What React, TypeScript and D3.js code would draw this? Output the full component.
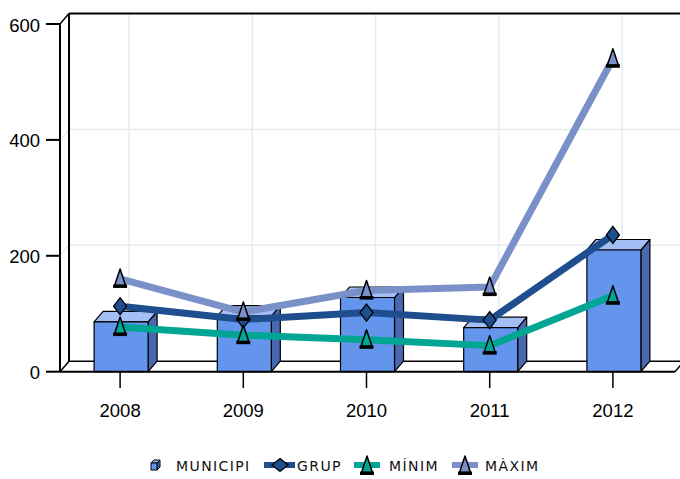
import React from 'react';
import * as d3 from 'd3';

const years = ['2008', '2009', '2010', '2011', '2012'];
const municipi = [86, 96, 128, 76, 210];
const grup = [113, 90, 102, 89, 236];
const minim = [77, 63, 55, 45, 131];
const maxim = [160, 103, 140, 146, 540];
const yTicks = [0, 200, 400, 600];

const W = 680;
const H = 479;
const DX = 9;
const DY = -10.5;

const C_FRONT = '#6495ED';
const C_TOP = '#A3BFF5';
const C_SIDE = '#4A68B0';
const C_GRUP = '#1F4E8F';
const C_MIN = '#00A693';
const C_MAX = '#7A90C8';
const GRID = '#E6EBF1';

const x = d3.scaleBand<string>().domain(years).range([58.5, 674.5]);
const y = d3.scaleLinear().domain([0, 600]).range([371.7, 24]);
const cx = (d: string) => (x(d) as number) + x.bandwidth() / 2;

const Triangle = ({ px, py, fill }: { px: number; py: number; fill: string }) => (
  <g transform={`translate(${px},${py})`}>
    <path d="M0,-10 L5.5,6.5 L-5.5,6.5 Z" fill={fill} stroke="#000" strokeWidth={1.5} strokeLinejoin="round" />
    <rect x={-7} y={5.5} width={14} height={3.5} fill="#000" />
  </g>
);

const Diamond = ({ px, py, fill, w = 6.5, h = 8.5 }: { px: number; py: number; fill: string; w?: number; h?: number }) => (
  <path
    d={`M${px},${py - h} L${px + w},${py} L${px},${py + h} L${px - w},${py} Z`}
    fill={fill}
    stroke="#000"
    strokeWidth={1.3}
  />
);

export default function App() {
  const y0 = y(0);
  const xL = 60;
  const xR = 675;
  const barW = 54;
  const line = d3
    .line<number>()
    .x((_, i) => cx(years[i]))
    .y((v) => y(v));

  const series = [
    { vals: grup, color: C_GRUP, kind: 'diamond' },
    { vals: minim, color: C_MIN, kind: 'tri' },
    { vals: maxim, color: C_MAX, kind: 'tri' },
  ];

  return (
    <svg width={W} height={H} style={{ position: 'absolute', left: 0, top: 0, background: '#fff' }}>
      {/* back wall gridlines */}
      {yTicks.filter((t) => t > 0 && t < 600).map((t) => (
        <g key={'g' + t}>
          <line x1={xL + DX} x2={W} y1={y(t) + DY} y2={y(t) + DY} stroke={GRID} strokeWidth={1.5} />
          <line x1={xL} x2={xL + DX} y1={y(t)} y2={y(t) + DY} stroke={GRID} strokeWidth={1.5} />
        </g>
      ))}
      {years.map((d) => (
        <line key={'v' + d} x1={cx(d) + DX} x2={cx(d) + DX} y1={y(600) + DY} y2={y0 + DY} stroke={GRID} strokeWidth={1.5} />
      ))}
      {/* frame */}
      <line x1={xL + DX} x2={W} y1={y(600) + DY} y2={y(600) + DY} stroke="#000" strokeWidth={2} />
      <line x1={xL + DX} x2={xL + DX} y1={y(600) + DY} y2={y0 + DY} stroke="#000" strokeWidth={2} />
      <line x1={xL} x2={xL + DX} y1={y(600)} y2={y(600) + DY} stroke="#000" strokeWidth={1.5} />
      <line x1={xL} x2={xL} y1={y(600)} y2={y0} stroke="#000" strokeWidth={2} />
      <line x1={xL + DX} x2={W} y1={y0 + DY} y2={y0 + DY} stroke="#000" strokeWidth={1.5} />
      <line x1={xL} x2={xL + DX} y1={y0} y2={y0 + DY} stroke="#000" strokeWidth={1.5} />
      <line x1={xR} x2={xR + DX} y1={y0} y2={y0 + DY} stroke="#000" strokeWidth={1.5} />

      {/* bars */}
      {years.map((d, i) => {
        const x0 = cx(d) - barW / 2 + 1;
        const x1 = x0 + barW;
        const yt = y(municipi[i]);
        return (
          <g key={'b' + d} stroke="#000" strokeWidth={1.2} strokeLinejoin="round">
            <path d={`M${x1},${yt} L${x1 + DX},${yt + DY} L${x1 + DX},${y0 + DY} L${x1},${y0} Z`} fill={C_SIDE} />
            <path d={`M${x0},${yt} L${x0 + DX},${yt + DY} L${x1 + DX},${yt + DY} L${x1},${yt} Z`} fill={C_TOP} />
            <rect x={x0} y={yt} width={barW} height={y0 - yt} fill={C_FRONT} />
          </g>
        );
      })}

      {/* front floor line */}
      <line x1={xL} x2={xR} y1={y0} y2={y0} stroke="#000" strokeWidth={2} />

      {/* lines & markers */}
      {series.map((s, si) => (
        <g key={'s' + si}>
          <path d={line(s.vals) as string} fill="none" stroke={s.color} strokeWidth={7} strokeLinejoin="round" />
          {s.vals.map((v, i) =>
            s.kind === 'diamond' ? (
              <Diamond key={i} px={cx(years[i])} py={y(v)} fill={s.color} />
            ) : (
              <Triangle key={i} px={cx(years[i])} py={y(v)} fill={s.color} />
            )
          )}
        </g>
      ))}

      {/* y axis */}
      {yTicks.map((t) => (
        <g key={'y' + t}>
          <line x1={46} x2={xL} y1={y(t)} y2={y(t)} stroke="#000" strokeWidth={2} />
          <text x={40} y={y(t) + 7.5} textAnchor="end" fontFamily="Liberation Sans, Arial, sans-serif" fontSize={18.5} fill="#000">
            {t}
          </text>
        </g>
      ))}
      {/* x axis */}
      {years.map((d) => (
        <g key={'x' + d}>
          <line x1={cx(d)} x2={cx(d)} y1={y0} y2={388} stroke="#000" strokeWidth={1.5} />
          <text x={cx(d)} y={416.5} textAnchor="middle" fontFamily="Liberation Sans, Arial, sans-serif" fontSize={18.5} fill="#000">
            {d}
          </text>
        </g>
      ))}

      {/* legend */}
      <g fontFamily="DejaVu Sans, sans-serif" fontSize={14} letterSpacing={1.4} fill="#111">
        <g stroke="#000" strokeWidth={1}>
          <path d="M157,463 L160,460 L160,467 L157,470 Z" fill={C_SIDE} />
          <path d="M151,463 L154,460 L160,460 L157,463 Z" fill={C_TOP} />
          <rect x={151} y={463} width={6} height={7} fill={C_FRONT} />
        </g>
        <text x={176} y={471}>MUNICIPI</text>
        <line x1={264} x2={295} y1={465} y2={465} stroke={C_GRUP} strokeWidth={6} />
        <Diamond px={280} py={465} fill={C_GRUP} w={8} h={6.5} />
        <text x={297} y={471}>GRUP</text>
        <line x1={354} x2={380} y1={465} y2={465} stroke={C_MIN} strokeWidth={6} />
        <Triangle px={367} py={466} fill={C_MIN} />
        <text x={389} y={471}>MÍNIM</text>
        <line x1={452} x2={478} y1={465} y2={465} stroke={C_MAX} strokeWidth={6} />
        <Triangle px={465} py={466} fill={C_MAX} />
        <text x={485} y={471}>MÀXIM</text>
      </g>
    </svg>
  );
}
